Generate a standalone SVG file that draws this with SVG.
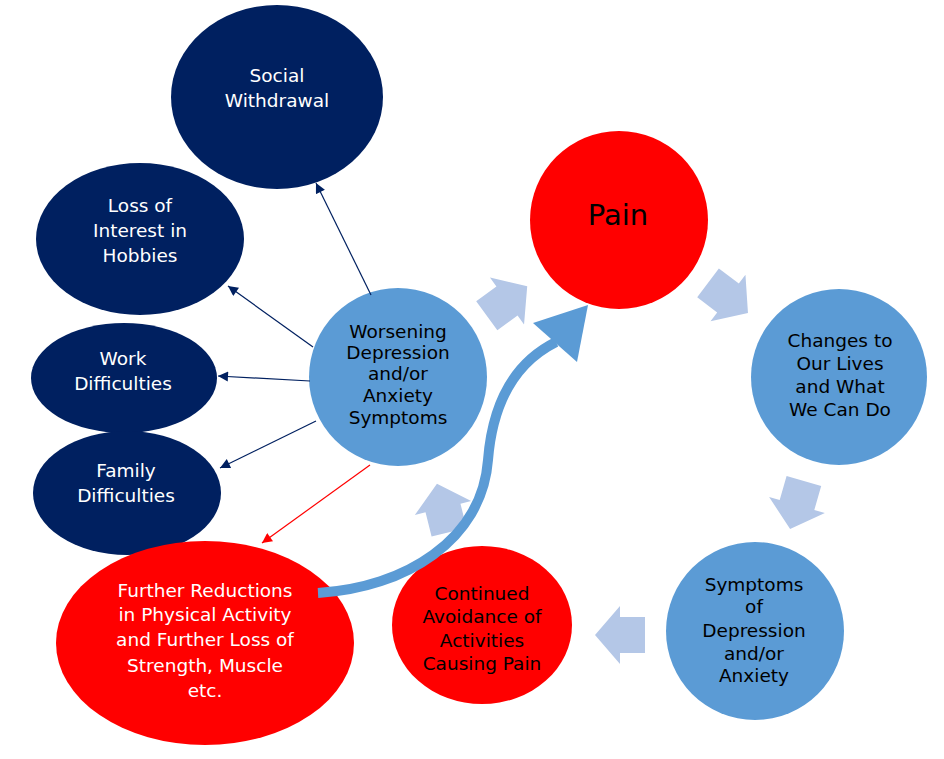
<svg xmlns="http://www.w3.org/2000/svg" width="944" height="759" viewBox="0 0 944 759">
<style>
text{font-family:"DejaVu Sans","Liberation Sans",sans-serif;font-size:18.5px;text-anchor:middle}
.w{fill:#ffffff}.k{fill:#000000}
.navy{fill:#002060}.blue{fill:#5b9bd5}.red{fill:#ff0000}
.blk{fill:#b4c7e7}
.ln{stroke:#002060;stroke-width:1.2;fill:none}
</style>
<defs>
<marker id="ah" viewBox="0 0 10 10" refX="10" refY="5" markerWidth="11" markerHeight="10" markerUnits="userSpaceOnUse" orient="auto"><path d="M0,0L10,5L0,10Z" fill="#002060"/></marker>
<marker id="ahr" viewBox="0 0 10 10" refX="10" refY="5" markerWidth="11" markerHeight="10" markerUnits="userSpaceOnUse" orient="auto"><path d="M0,0L10,5L0,10Z" fill="#ff0000"/></marker>
<polygon id="barrow" points="-25,-18 0,-18 0,-29 25,0 0,29 0,18 -25,18"/>
</defs>
<g id="social"><ellipse class="navy" cx="277" cy="97" rx="106" ry="92"/><text class="w" x="277" y="82">Social</text><text class="w" x="277" y="107">Withdrawal</text></g>
<g id="loss"><ellipse class="navy" cx="140" cy="239" rx="104" ry="76"/><text class="w" x="140" y="212">Loss of</text><text class="w" x="140" y="237">Interest in</text><text class="w" x="140" y="262">Hobbies</text></g>
<g id="work"><ellipse class="navy" cx="124" cy="378" rx="93" ry="55"/><text class="w" x="123" y="365">Work</text><text class="w" x="123" y="390">Difficulties</text></g>
<g id="family"><ellipse class="navy" cx="127" cy="493" rx="94" ry="62"/><text class="w" x="126" y="477">Family</text><text class="w" x="126" y="502">Difficulties</text></g>
<g id="worsening"><circle class="blue" cx="398" cy="377" r="89"/><text class="k" x="398" y="338">Worsening</text><text class="k" x="398" y="359">Depression</text><text class="k" x="398" y="380">and/or</text><text class="k" x="398" y="402">Anxiety</text><text class="k" x="398" y="424">Symptoms</text></g>
<g id="pain"><circle class="red" cx="619" cy="220" r="89"/><text class="k" x="618" y="225" style="font-size:29px">Pain</text></g>
<g id="changes"><circle class="blue" cx="839" cy="377" r="88"/><text class="k" x="840" y="347">Changes to</text><text class="k" x="840" y="370">Our Lives</text><text class="k" x="840" y="393">and What</text><text class="k" x="840" y="416">We Can Do</text></g>
<g id="symptoms"><circle class="blue" cx="755" cy="631" r="89"/><text class="k" x="754" y="591">Symptoms</text><text class="k" x="754" y="613">of</text><text class="k" x="754" y="637">Depression</text><text class="k" x="754" y="660">and/or</text><text class="k" x="754" y="682">Anxiety</text></g>
<g id="continued"><ellipse class="red" cx="482" cy="625" rx="90" ry="79"/><text class="k" x="482" y="600">Continued</text><text class="k" x="482" y="623">Avoidance of</text><text class="k" x="482" y="647">Activities</text><text class="k" x="482" y="670">Causing Pain</text></g>
<g id="further"><ellipse class="red" cx="205" cy="643" rx="149" ry="102"/><text class="w" x="205" y="597">Further Reductions</text><text class="w" x="205" y="621">in Physical Activity</text><text class="w" x="205" y="646">and Further Loss of</text><text class="w" x="205" y="672">Strength, Muscle</text><text class="w" x="205" y="697">etc.</text></g>
<g id="connectors">
<line class="ln" x1="371" y1="295" x2="316" y2="183" marker-end="url(#ah)"/>
<line class="ln" x1="313" y1="347" x2="228" y2="286" marker-end="url(#ah)"/>
<line class="ln" x1="310" y1="381" x2="218" y2="376" marker-end="url(#ah)"/>
<line class="ln" x1="316" y1="421" x2="220" y2="468" marker-end="url(#ah)"/>
<line x1="370" y1="465" x2="262" y2="543" stroke="#ff0000" stroke-width="1.2" marker-end="url(#ahr)"/>
<use href="#barrow" class="blk" transform="translate(507,301) rotate(-36)"/>
<use href="#barrow" class="blk" transform="translate(728,298) rotate(37)"/>
<use href="#barrow" class="blk" transform="translate(797,505) rotate(106)"/>
<use href="#barrow" class="blk" transform="translate(620,635) rotate(180)"/>
<use href="#barrow" class="blk" transform="translate(443,508) rotate(-104)"/>
<path d="M318,593 C405,588 482,540 488,460 C492,410 510,365 556,342" fill="none" stroke="#5b9bd5" stroke-width="10"/>
<polygon points="588,305 533,323 577,362" fill="#5b9bd5"/>
</g>
</svg>
